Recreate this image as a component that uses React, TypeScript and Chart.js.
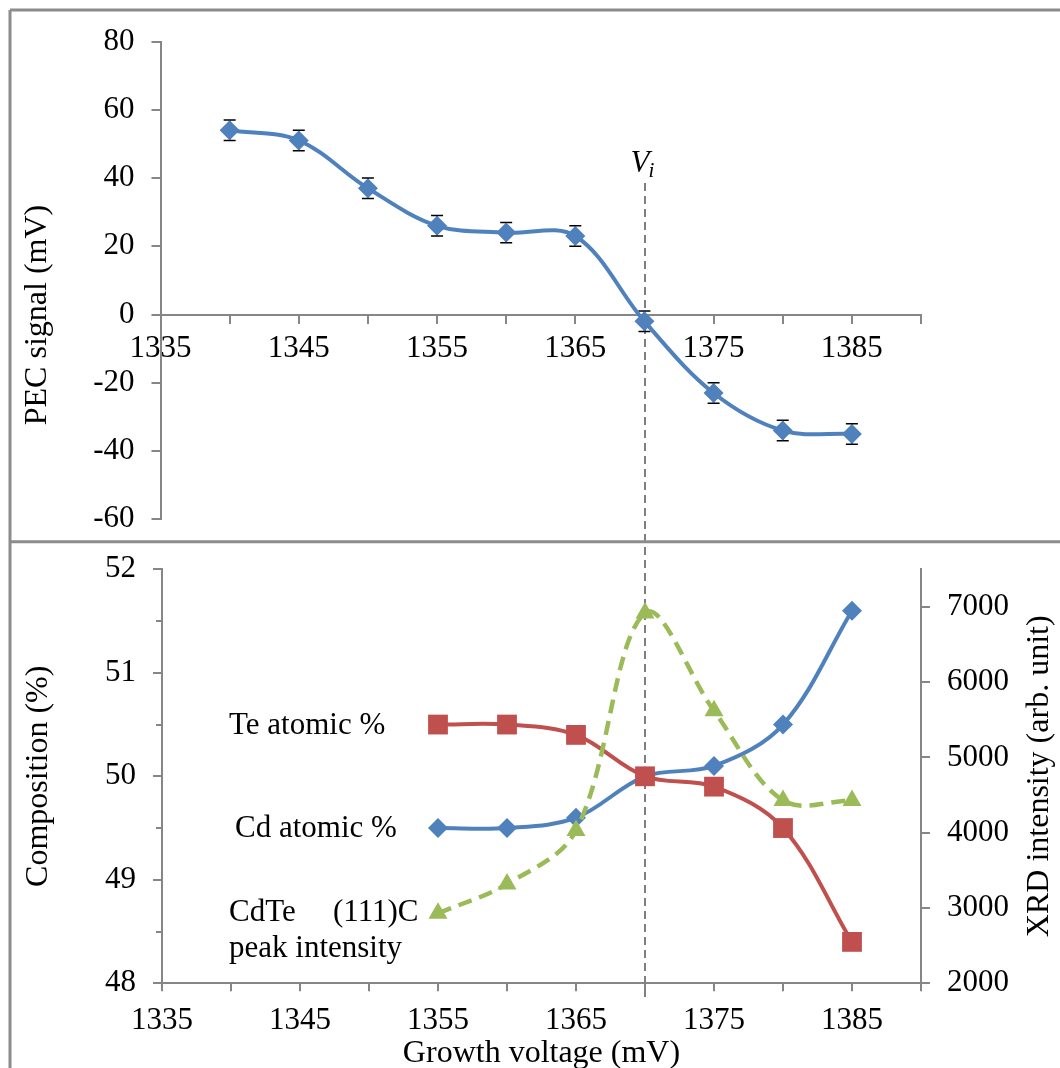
import React, { useEffect, useRef } from 'react';
import { Chart, registerables } from 'chart.js';

Chart.register(...registerables);

// ---------- data ----------
const pecVoltage = [1340, 1345, 1350, 1355, 1360, 1365, 1370, 1375, 1380, 1385];
const pecSignal = [54, 51, 37, 26, 24, 23, -2, -23, -34, -35];
const pecError = [3, 3, 3, 3, 3, 3, 3, 3, 3, 3];

const compVoltage = [1355, 1360, 1365, 1370, 1375, 1380, 1385];
const cdAtomic = [49.5, 49.5, 49.6, 50.0, 50.1, 50.5, 51.6];
const teAtomic = [50.5, 50.5, 50.4, 50.0, 49.9, 49.5, 48.4];
const xrdIntensity = [2930, 3320, 4030, 6920, 5620, 4430, 4430];

const transitionVoltage = 1370;
const xLabelValues = [1335, 1345, 1355, 1365, 1375, 1385];
const pecTicks = [-60, -40, -20, 0, 20, 40, 60, 80];
const compTicks = [48, 49, 50, 51, 52];
const compMinorTicks = [48.5, 49.5, 50.5, 51.5];
const xrdTicks = [2000, 3000, 4000, 5000, 6000, 7000];

// ---------- styles ----------
const FONT = "'Liberation Serif', 'Times New Roman', serif";
const BLUE = '#4F81BD';
const RED = '#C0504D';
const GREEN = '#9BBB59';
const AXIS = '#868686';
const tickFont = { family: FONT, size: 31 };

const gridOpts = (len: number) => ({
  display: true,
  drawOnChartArea: false,
  drawTicks: true,
  tickLength: len,
  color: AXIS,
  lineWidth: 2,
});
const borderOpts = { display: true, color: AXIS, width: 2 };
const setTicks = (vals: number[]) => (s: any) => {
  s.ticks = vals.map((value) => ({ value }));
};

export default function App() {
  const topRef = useRef<HTMLCanvasElement>(null);
  const botRef = useRef<HTMLCanvasElement>(null);

  useEffect(() => {
    const framePlugin = {
      id: 'frame',
      beforeDraw(chart: any) {
        const { ctx } = chart;
        ctx.save();
        ctx.strokeStyle = '#8c8c8c';
        ctx.lineWidth = 3;
        ctx.beginPath();
        ctx.moveTo(10, 10);
        ctx.lineTo(1060, 10);
        ctx.moveTo(10, 10);
        ctx.lineTo(10, 1068);
        ctx.moveTo(10, 541.7);
        ctx.lineTo(1060, 541.7);
        ctx.stroke();
        ctx.restore();
      },
    };

    const errorBarPlugin = {
      id: 'errorBars',
      beforeDatasetsDraw(chart: any) {
        const { ctx } = chart;
        const x = chart.scales.x;
        const y = chart.scales.y;
        ctx.save();
        ctx.strokeStyle = '#000';
        ctx.lineWidth = 1.5;
        pecVoltage.forEach((v, i) => {
          const px = x.getPixelForValue(v);
          const t = y.getPixelForValue(pecSignal[i] + pecError[i]);
          const b = y.getPixelForValue(pecSignal[i] - pecError[i]);
          ctx.beginPath();
          ctx.moveTo(px, t);
          ctx.lineTo(px, b);
          ctx.moveTo(px - 6, t);
          ctx.lineTo(px + 6, t);
          ctx.moveTo(px - 6, b);
          ctx.lineTo(px + 6, b);
          ctx.stroke();
        });
        ctx.restore();
      },
    };

    const topTextPlugin = {
      id: 'topText',
      afterDraw(chart: any) {
        const { ctx } = chart;
        const px = chart.scales.x.getPixelForValue(transitionVoltage);
        ctx.save();
        ctx.fillStyle = '#000';
        ctx.textAlign = 'left';
        ctx.textBaseline = 'alphabetic';
        ctx.font = `italic 31px ${FONT}`;
        ctx.fillText('V', px - 14, 172);
        ctx.font = `italic 21px ${FONT}`;
        ctx.fillText('i', px + 4, 177);
        ctx.restore();

        // y title
        ctx.save();
        ctx.fillStyle = '#000';
        ctx.font = `32px ${FONT}`;
        ctx.textAlign = 'center';
        ctx.textBaseline = 'middle';
        ctx.translate(38, 315);
        ctx.rotate(-Math.PI / 2);
        ctx.fillText('PEC signal (mV)', 0, 0);
        ctx.restore();
      },
    };

    const vLinePlugin = {
      id: 'vLine',
      beforeDatasetsDraw(chart: any) {
        const { ctx } = chart;
        const px = chart.scales.x.getPixelForValue(transitionVoltage);
        ctx.save();
        ctx.strokeStyle = '#7f7f7f';
        ctx.lineWidth = 2;
        ctx.setLineDash([8, 5]);
        ctx.beginPath();
        ctx.moveTo(px, 183);
        ctx.lineTo(px, 998);
        ctx.stroke();
        ctx.restore();
      },
    };

    const bottomDecorPlugin = {
      id: 'bottomDecor',
      afterDraw(chart: any) {
        const { ctx, chartArea } = chart;
        const y = chart.scales.y;
        const y2 = chart.scales.y2;
        ctx.save();
        // minor ticks on composition axis
        ctx.strokeStyle = AXIS;
        ctx.lineWidth = 2;
        ctx.beginPath();
        compMinorTicks.forEach((v) => {
          const py = Math.round(y.getPixelForValue(v));
          ctx.moveTo(chartArea.left - 6, py);
          ctx.lineTo(chartArea.left, py);
        });
        ctx.stroke();

        // right axis title (bottom-to-top)
        ctx.fillStyle = '#000';
        ctx.font = `32px ${FONT}`;
        ctx.textAlign = 'center';
        ctx.textBaseline = 'middle';
        ctx.translate(1040, (chartArea.top + chartArea.bottom) / 2);
        ctx.rotate(-Math.PI / 2);
        ctx.fillText('XRD intensity (arb. unit)', 0, 0);
        ctx.restore();

        // series labels
        ctx.save();
        ctx.fillStyle = '#000';
        ctx.font = `31px ${FONT}`;
        ctx.textAlign = 'left';
        ctx.textBaseline = 'middle';
        ctx.fillText('Te atomic %', 229, y.getPixelForValue(teAtomic[0]) + 1);
        ctx.fillText('Cd atomic %', 235, y.getPixelForValue(cdAtomic[0]) + 1);
        const gy = y2.getPixelForValue(xrdIntensity[0]);
        ctx.fillText('CdTe', 229, gy);
        ctx.fillText('(111)C', 333, gy);
        ctx.fillText('peak intensity', 229, gy + 36);
        ctx.restore();
      },
    };

    const topChart = new Chart(topRef.current as HTMLCanvasElement, {
      type: 'line',
      data: {
        datasets: [
          {
            data: pecVoltage.map((x, i) => ({ x, y: pecSignal[i] })),
            borderColor: BLUE,
            backgroundColor: BLUE,
            borderWidth: 4,
            pointStyle: 'rectRot',
            pointRadius: 10,
            pointBackgroundColor: BLUE,
            pointBorderColor: BLUE,
            pointBorderWidth: 0,
            tension: 0.35,
            fill: false,
            clip: false,
          } as any,
        ],
      },
      options: {
        responsive: false,
        animation: false,
        events: [],
        layout: { padding: { left: 0, top: 41.5, right: 139, bottom: 1068 - 509.3 - 10 } },
        plugins: { legend: { display: false }, tooltip: { enabled: false } },
        scales: {
          x: {
            type: 'linear',
            position: { y: 0 } as any,
            min: 1335,
            max: 1390,
            afterFit: (s: any) => {
              s.height = 10;
            },
            ticks: {
              stepSize: 5,
              autoSkip: false,
              maxRotation: 0,
              font: tickFont,
              color: '#000',
              padding: 8,
              callback: (v: any) => (xLabelValues.includes(Number(v)) ? String(v) : ''),
            },
            grid: gridOpts(8),
            border: borderOpts,
          },
          y: {
            type: 'linear',
            min: -60,
            max: 80,
            afterFit: (s: any) => {
              s.width = 160.5;
            },
            afterBuildTicks: setTicks(pecTicks),
            ticks: {
              font: tickFont,
              color: '#000',
              padding: 17,
              callback: (v: any) => String(v),
            },
            grid: gridOpts(9),
            border: borderOpts,
          },
        },
      } as any,
      plugins: [framePlugin, errorBarPlugin, topTextPlugin],
    });

    const botChart = new Chart(botRef.current as HTMLCanvasElement, {
      type: 'line',
      data: {
        datasets: [
          {
            label: 'CdTe (111)C peak intensity',
            yAxisID: 'y2',
            order: 0,
            data: compVoltage.map((x, i) => ({ x, y: xrdIntensity[i] })),
            borderColor: GREEN,
            backgroundColor: GREEN,
            borderWidth: 4.5,
            borderDash: [14, 8],
            pointStyle: 'triangle',
            pointRadius: 11,
            pointBackgroundColor: GREEN,
            pointBorderColor: GREEN,
            pointBorderWidth: 0,
            tension: 0.35,
            fill: false,
            clip: false,
          } as any,
          {
            label: 'Te atomic %',
            yAxisID: 'y',
            order: 1,
            data: compVoltage.map((x, i) => ({ x, y: teAtomic[i] })),
            borderColor: RED,
            backgroundColor: RED,
            borderWidth: 4,
            pointStyle: 'rect',
            pointRadius: 14,
            pointBackgroundColor: RED,
            pointBorderColor: RED,
            pointBorderWidth: 0,
            tension: 0.35,
            fill: false,
            clip: false,
          } as any,
          {
            label: 'Cd atomic %',
            yAxisID: 'y',
            order: 2,
            data: compVoltage.map((x, i) => ({ x, y: cdAtomic[i] })),
            borderColor: BLUE,
            backgroundColor: BLUE,
            borderWidth: 4,
            pointStyle: 'rectRot',
            pointRadius: 10,
            pointBackgroundColor: BLUE,
            pointBorderColor: BLUE,
            pointBorderWidth: 0,
            tension: 0.35,
            fill: false,
            clip: false,
          } as any,
        ],
      },
      options: {
        responsive: false,
        animation: false,
        events: [],
        layout: { padding: { left: 0, top: 569.3, right: 0, bottom: 0 } },
        plugins: { legend: { display: false }, tooltip: { enabled: false } },
        scales: {
          x: {
            type: 'linear',
            position: 'bottom',
            min: 1335,
            max: 1390,
            afterFit: (s: any) => {
              s.height = 1068 - 983.3;
            },
            ticks: {
              stepSize: 5,
              autoSkip: false,
              maxRotation: 0,
              font: tickFont,
              color: '#000',
              padding: 11,
              callback: (v: any) => (xLabelValues.includes(Number(v)) ? String(v) : ''),
            },
            grid: gridOpts(8),
            border: borderOpts,
            title: {
              display: true,
              text: 'Growth voltage (mV)',
              font: { family: FONT, size: 32, lineHeight: 0.875 },
              color: '#000',
              padding: { top: 0, bottom: 0 },
            },
          },
          y: {
            type: 'linear',
            position: 'left',
            min: 48,
            max: 52,
            afterFit: (s: any) => {
              s.width = 162;
            },
            afterBuildTicks: setTicks(compTicks),
            ticks: {
              font: tickFont,
              color: '#000',
              padding: 17,
              callback: (v: any) => String(v),
            },
            grid: gridOpts(9),
            border: borderOpts,
            title: {
              display: true,
              text: 'Composition (%)',
              font: { family: FONT, size: 32 },
              color: '#000',
              padding: { top: 19, bottom: 0 },
            },
          },
          y2: {
            type: 'linear',
            position: 'right',
            min: 2000,
            max: 7500,
            afterFit: (s: any) => {
              s.width = 139;
            },
            afterBuildTicks: setTicks(xrdTicks),
            ticks: {
              font: tickFont,
              color: '#000',
              padding: 17,
              callback: (v: any) => String(v),
            },
            grid: gridOpts(9),
            border: borderOpts,
          },
        },
      } as any,
      plugins: [vLinePlugin, bottomDecorPlugin],
    });

    return () => {
      topChart.destroy();
      botChart.destroy();
    };
  }, []);

  return (
    <div
      style={{
        position: 'absolute',
        left: 0,
        top: 0,
        width: 1060,
        height: 1068,
        background: '#fff',
        overflow: 'hidden',
      }}
    >
      <canvas ref={botRef} width={1060} height={1068} style={{ position: 'absolute', left: 0, top: 0 }} />
      <canvas ref={topRef} width={1060} height={1068} style={{ position: 'absolute', left: 0, top: 0 }} />
    </div>
  );
}
